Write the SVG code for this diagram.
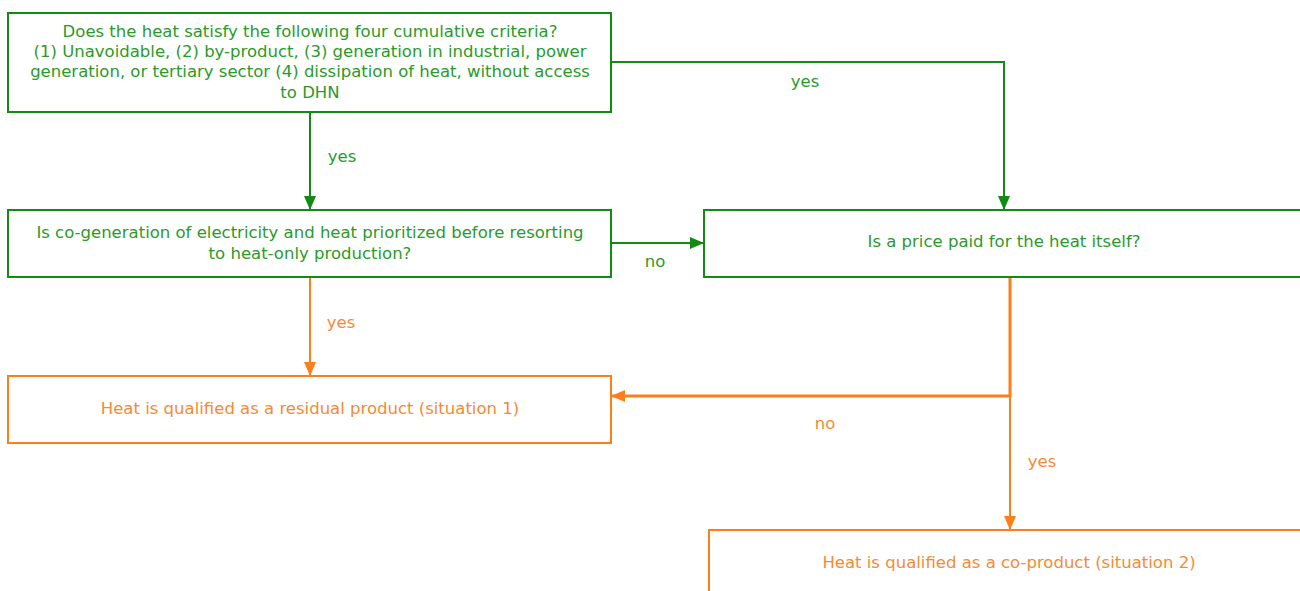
<svg xmlns="http://www.w3.org/2000/svg" width="1300" height="591" viewBox="0 0 1300 591">
<style>
text{font-family:"DejaVu Sans",Verdana,sans-serif;font-size:16.5px;text-anchor:middle}
.g rect{fill:#fff;stroke:#138a13;stroke-width:2}
.o rect{fill:#fff;stroke:#fd7f1c;stroke-width:2}
.gt{fill:#2a9a2a}
.ot{fill:#f58a35}
.gl{stroke:#138a13;stroke-width:2;fill:none}
.ol{stroke:#fd7f1c;stroke-width:2;fill:none}
</style>
<defs>
<marker id="ag" viewBox="0 0 14 14" refX="13" refY="7" markerWidth="14" markerHeight="14" markerUnits="userSpaceOnUse" orient="auto"><path d="M0,1 L14,7 L0,13 Z" fill="#138a13"/></marker>
<marker id="ao" viewBox="0 0 14 14" refX="13" refY="7" markerWidth="14" markerHeight="14" markerUnits="userSpaceOnUse" orient="auto"><path d="M0,1 L14,7 L0,13 Z" fill="#fd7f1c"/></marker>
</defs>
<g id="connectors">
<path class="gl" d="M310,113 V209" marker-end="url(#ag)"/>
<path class="gl" d="M611,62 H1004 V209" marker-end="url(#ag)"/>
<path class="gl" d="M611,243 H703" marker-end="url(#ag)"/>
<path class="ol" d="M310,278 V375" marker-end="url(#ao)"/>
<path class="ol" d="M1010,278 V396 H612" style="stroke-width:3" marker-end="url(#ao)"/>
<path class="ol" d="M1010,396 V529" marker-end="url(#ao)"/>
<text class="gt" x="342" y="162">yes</text>
<text class="gt" x="805" y="87">yes</text>
<text class="gt" x="655" y="267">no</text>
<text class="ot" x="341" y="328">yes</text>
<text class="ot" x="825" y="429">no</text>
<text class="ot" x="1042" y="467">yes</text>
</g>
<g id="n1" class="g"><rect x="8" y="13" width="603" height="99"/>
<text class="gt" x="310" y="37">Does the heat satisfy the following four cumulative criteria?</text>
<text class="gt" x="310" y="57">(1) Unavoidable, (2) by-product, (3) generation in industrial,  power</text>
<text class="gt" x="310" y="77">generation, or tertiary sector (4) dissipation of heat, without access</text>
<text class="gt" x="310" y="98">to DHN</text></g>
<g id="n2" class="g"><rect x="8" y="210" width="603" height="67"/>
<text class="gt" x="310" y="238">Is co-generation of electricity and heat prioritized before resorting</text>
<text class="gt" x="310" y="259">to heat-only production?</text></g>
<g id="n3" class="g"><rect x="704" y="210" width="620" height="67"/>
<text class="gt" x="1004" y="247">Is a price paid for the heat itself?</text></g>
<g id="n4" class="o"><rect x="8" y="376" width="603" height="67"/>
<text class="ot" x="310" y="414">Heat is qualified  as a residual product (situation 1)</text></g>
<g id="n5" class="o"><rect x="709" y="530" width="620" height="80"/>
<text class="ot" x="1009" y="568">Heat is qualified  as a co-product (situation 2)</text></g>
</svg>
